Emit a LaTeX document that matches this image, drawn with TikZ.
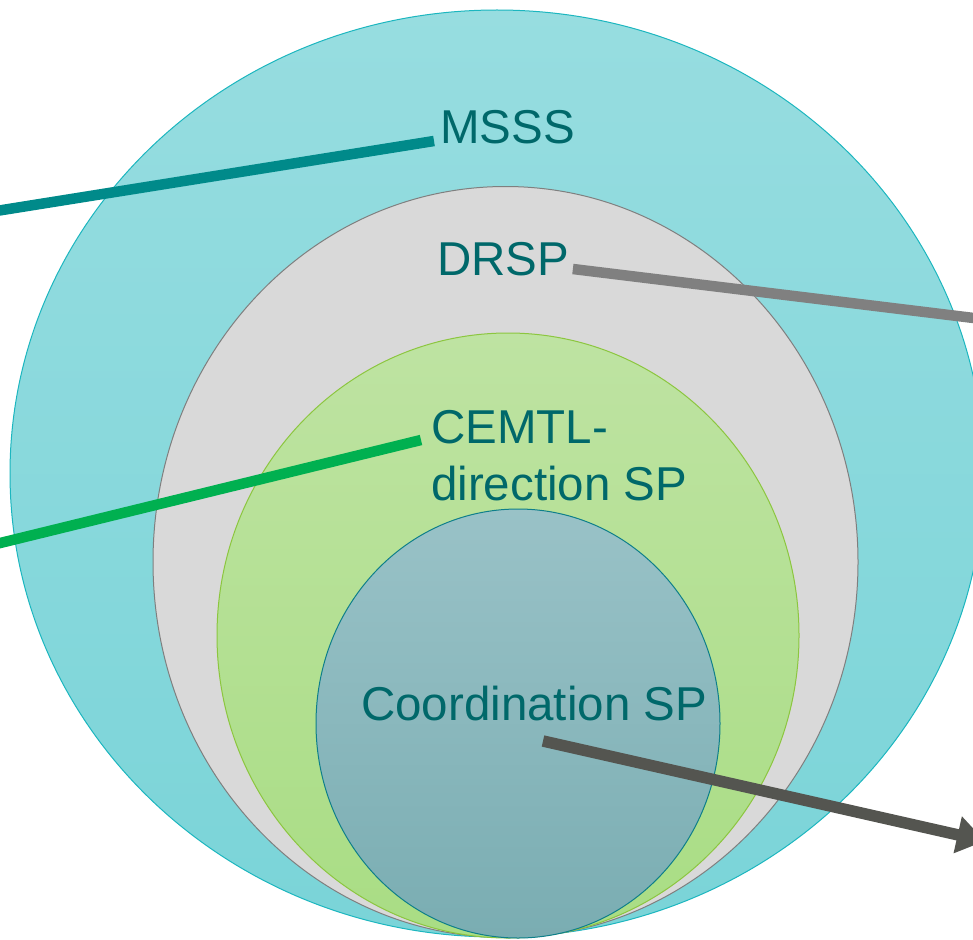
\documentclass[tikz,border=0pt]{standalone}
\usepackage{fontspec}
\setmainfont{Liberation Sans}
\usetikzlibrary{arrows.meta}
\definecolor{outerT}{HTML}{97DDE0}
\definecolor{outerB}{HTML}{7AD4D8}
\definecolor{outerD}{HTML}{1CB6BF}
\definecolor{grayF}{HTML}{D9D9D9}
\definecolor{grayD}{HTML}{7F7F7F}
\definecolor{greenT}{HTML}{BEE3A2}
\definecolor{greenB}{HTML}{A9DD84}
\definecolor{greenD}{HTML}{8CC63F}
\definecolor{innerT}{HTML}{99C2C7}
\definecolor{innerB}{HTML}{7AADB2}
\definecolor{innerD}{HTML}{0E7F8A}
\definecolor{txt}{HTML}{00686A}
\definecolor{msssC}{HTML}{008A8A}
\definecolor{drspC}{HTML}{808080}
\definecolor{cemtlC}{HTML}{00B050}
\definecolor{arrowC}{HTML}{545550}
\begin{document}
\begin{tikzpicture}[x=1pt,y=-1pt,
  lbl/.style={inner sep=0pt, text=txt, font=\fontsize{47.5}{57}\selectfont, anchor=base west},
  ring/.style={line width=1pt},
  conn/.style={line width=10.5pt, line cap=butt},
  arrowconn/.style={line width=11.5pt, line cap=butt, draw=arrowC, -{Triangle[length=28pt,width=36pt]}}]
\useasboundingbox (0,0) rectangle (973,939);
% nested ellipses
\path[ring, draw=outerD, top color=outerT, bottom color=outerB] (497,473.5) ellipse [x radius=487, y radius=463.5];
\path[ring, draw=grayD, fill=grayF] (505.5,562) ellipse [x radius=352.5, y radius=375.5];
\path[ring, draw=greenD, top color=greenT, bottom color=greenB] (508,635.5) ellipse [x radius=291, y radius=302.5];
\path[ring, draw=innerD, top color=innerT, bottom color=innerB] (518,723.5) ellipse [x radius=202, y radius=214.5];
% labels
\node[lbl] (msss) at (440,143) {MSSS};
\node[lbl] (drsp) at (437,275) {DRSP};
\node[lbl, align=left] (cemtl) at (431,500) {CEMTL-\\direction SP};
\node[lbl] (coord) at (361,720) {Coordination SP};
% free ends
\coordinate (msssL) at (-10,212);
\coordinate (drspR) at (990,320);
\coordinate (cemtlL) at (-10,545.5);
\coordinate (ctip) at (985,841);
% connectors
\draw[conn, draw=msssC] (msssL) -- ([xshift=-6pt,yshift=2pt]msss.base west);
\draw[conn, draw=drspC] ([xshift=3.5pt,yshift=6pt]drsp.base east) -- (drspR);
\draw[conn, draw=cemtlC] (cemtlL) -- ([xshift=-10pt,yshift=60pt]cemtl.base west);
\draw[arrowconn] ([xshift=182pt,yshift=-21pt]coord.base west) -- (ctip);
\end{tikzpicture}
\end{document}
